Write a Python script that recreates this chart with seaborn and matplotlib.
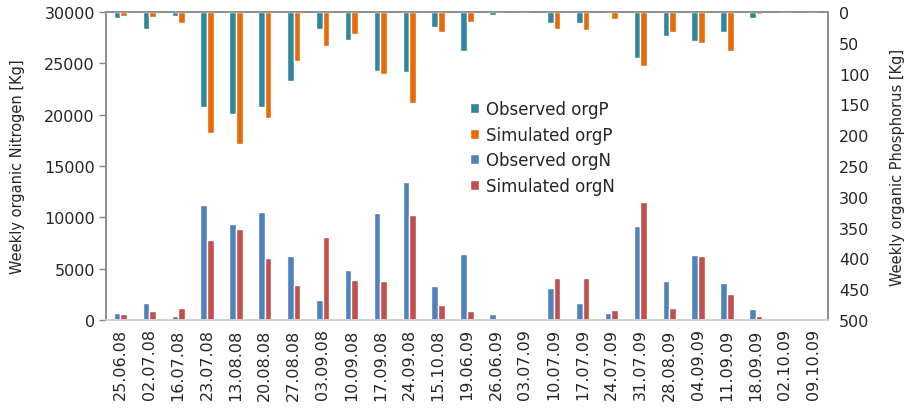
import matplotlib
matplotlib.use("Agg")
import matplotlib.pyplot as plt
import seaborn as sns
import pandas as pd
from matplotlib.patches import Patch

dates = ["25.06.08", "02.07.08", "16.07.08", "23.07.08", "13.08.08", "20.08.08",
         "27.08.08", "03.09.08", "10.09.08", "17.09.08", "24.09.08", "15.10.08",
         "19.06.09", "26.06.09", "03.07.09", "10.07.09", "17.07.09", "24.07.09",
         "31.07.09", "28.08.09", "04.09.09", "11.09.09", "18.09.09", "02.10.09",
         "09.10.09"]

obs_orgN = [650, 1630, 400, 11230, 9350, 10490, 6260, 1980, 4870, 10390, 13410, 3340,
            6430, 580, 0, 3080, 1620, 650, 9190, 3770, 6300, 3640, 1070, 0, 0]
sim_orgN = [600, 900, 1200, 7800, 8860, 6040, 3400, 8110, 3860, 3770, 10260, 1490,
            880, 0, 0, 4090, 4090, 970, 11520, 1140, 6200, 2560, 390, 0, 0]

obs_orgP = [10.5, 27, 6, 154, 165, 155, 112, 27, 46, 96, 97, 24,
            63.5, 5, 0, 17.5, 18.5, 1, 74, 39, 47, 32, 9.5, 0, 0]
sim_orgP = [7, 8, 17.5, 196, 214, 172, 79, 55.5, 35, 101, 148.5, 33,
            16.5, 0, 0, 28, 29.5, 11, 88, 33, 50, 62.5, 4, 0, 0]

n_labels = ["Observed orgN", "Simulated orgN"]
p_labels = ["Observed orgP", "Simulated orgP"]

c_obsN, c_simN = "#4F81BD", "#C0504D"
c_obsP, c_simP = "#31859C", "#E46C0A"

dfN = pd.DataFrame({
    "date": dates * 2,
    "value": obs_orgN + sim_orgN,
    "series": [n_labels[0]] * len(dates) + [n_labels[1]] * len(dates),
})
dfP = pd.DataFrame({
    "date": dates * 2,
    "value": obs_orgP + sim_orgP,
    "series": [p_labels[0]] * len(dates) + [p_labels[1]] * len(dates),
})

sns.set_style("white")
plt.rcParams["font.family"] = ["DejaVu Sans"]

fig = plt.figure(figsize=(9.07, 4.10), dpi=100)
ax = fig.add_axes([106 / 907, 1 - 321 / 410, 722 / 907, 308 / 410])

sns.barplot(data=dfN, x="date", y="value", hue="series", order=dates,
            hue_order=n_labels, palette=[c_obsN, c_simN], width=0.46,
            saturation=1, edgecolor="white", linewidth=1.0, legend=False, ax=ax)

ax2 = ax.twinx()
sns.barplot(data=dfP, x="date", y="value", hue="series", order=dates,
            hue_order=p_labels, palette=[c_obsP, c_simP], width=0.46,
            saturation=1, edgecolor="white", linewidth=1.0, legend=False, ax=ax2)

ax.set_xlim(-0.5, len(dates) - 0.5)
ax.set_ylim(0, 30000)
ax.set_yticks(range(0, 30001, 5000))
ax2.set_ylim(500, 0)
ax2.set_yticks(range(0, 501, 50))

ax.set_xlabel("")
ax2.set_xlabel("")
ax.set_ylabel("Weekly organic Nitrogen [Kg]", fontsize=10.5, labelpad=14)
ax2.set_ylabel("Weekly organic Phosphorus [Kg]", fontsize=10.5, labelpad=15)

ax.set_xticks(range(len(dates)))
ax.set_xticklabels(dates, rotation=90, fontsize=11.5)
ax.tick_params(axis="x", length=0, pad=6)
ax.tick_params(axis="y", labelsize=11.5, length=5, width=1, color="#888888",
               direction="out", left=True, pad=3)
ax2.tick_params(axis="y", labelsize=11.5, length=0, pad=8)

for a in (ax, ax2):
    for s in a.spines.values():
        s.set_color("#8C8C8C")
        s.set_linewidth(1.2)
ax.spines["bottom"].set_color("#D0D0D0")
ax2.spines["bottom"].set_color("#D0D0D0")

handles = [Patch(facecolor=c_obsP), Patch(facecolor=c_simP),
           Patch(facecolor=c_obsN), Patch(facecolor=c_simN)]
labels = [p_labels[0], p_labels[1], n_labels[0], n_labels[1]]
ax2.legend(handles, labels, loc="upper left", bbox_to_anchor=(0.495, 0.735),
           frameon=False, fontsize=12, handlelength=0.55, handleheight=0.55,
           handletextpad=0.4, labelspacing=0.45, borderaxespad=0)

fig.savefig("out.png", dpi=100)
